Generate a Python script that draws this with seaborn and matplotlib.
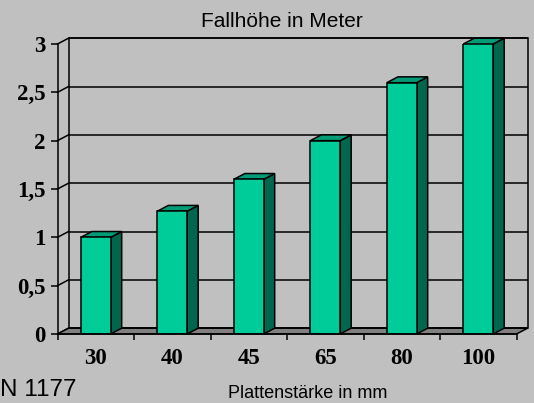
import matplotlib
matplotlib.use('Agg')
import matplotlib.pyplot as plt
from matplotlib.patches import Polygon
import seaborn as sns

# --- DATEN ---
staerke = ['30', '40', '45', '65', '80', '100']
fallhoehe = [1.0, 1.27, 1.6, 2.0, 2.6, 3.0]
y_ticks = [0, 0.5, 1, 1.5, 2, 2.5, 3]
y_labels = ['0', '0,5', '1', '1,5', '2', '2,5', '3']

# --- FARBEN ---
BG = '#C0C0C0'
FRONT = '#00CC99'
TOP = '#009B77'
SIDE = '#00664D'
FLOOR = '#808080'
LW = 1.1

# Tiefenversatz (pseudo-3D) in Dateneinheiten
DX = 0.144
DY = 0.060

fig = plt.figure(figsize=(5.34, 4.03), dpi=100, facecolor=BG)
ax = fig.add_axes([57.5 / 534, (403 - 334) / 403, 459 / 534, 290 / 403])
ax.set_facecolor('none')

x0, x1 = -0.5, len(staerke) - 0.5

# Rückwand + Gitterlinien
wall = Polygon([(x0 + DX, DY), (x1 + DX, DY), (x1 + DX, 3 + DY), (x0 + DX, 3 + DY)],
               closed=True, facecolor='none', edgecolor='black', lw=LW,
               zorder=1, clip_on=False)
ax.add_patch(wall)
for y in y_ticks:
    ax.plot([x0 + DX, x1 + DX], [y + DY, y + DY], color='black', lw=LW,
            zorder=1, clip_on=False, solid_capstyle='butt')
    ax.plot([x0, x0 + DX], [y, y + DY], color='black', lw=LW,
            zorder=1, clip_on=False)

# Boden
floor = Polygon([(x0, 0), (x1, 0), (x1 + DX, DY), (x0 + DX, DY)], closed=True,
                facecolor=FLOOR, edgecolor='black', lw=LW, zorder=1.5, clip_on=False)
ax.add_patch(floor)

# Balken
sns.barplot(x=staerke, y=fallhoehe, color=FRONT, saturation=1, width=0.39,
            edgecolor='black', linewidth=LW, ax=ax, zorder=3)

for p in ax.patches[2:]:
    bx, bw, bh = p.get_x(), p.get_width(), p.get_height()
    side = Polygon([(bx + bw, 0), (bx + bw + DX, DY), (bx + bw + DX, bh + DY), (bx + bw, bh)],
                   closed=True, facecolor=SIDE, edgecolor='black', lw=LW,
                   zorder=2.9, clip_on=False)
    top = Polygon([(bx, bh), (bx + bw, bh), (bx + bw + DX, bh + DY), (bx + DX, bh + DY)],
                  closed=True, facecolor=TOP, edgecolor='black', lw=LW,
                  zorder=2.9, clip_on=False)
    ax.add_patch(side)
    ax.add_patch(top)

ax.set_xlim(x0, x1)
ax.set_ylim(0, 3)
ax.set_xlabel('')
ax.set_ylabel('')

for s in ['top', 'right']:
    ax.spines[s].set_visible(False)
for s in ['left', 'bottom']:
    ax.spines[s].set_linewidth(LW)
    ax.spines[s].set_zorder(4)

tick_font = dict(family='Liberation Serif', weight='bold', size=16.5)
ax.set_yticks(y_ticks)
ax.set_yticklabels(y_labels, fontdict=tick_font)
ax.set_xticks(range(len(staerke)))
ax.set_xticklabels(staerke, fontdict=tick_font)
ax.set_xticks([i - 0.5 for i in range(len(staerke) + 1)], minor=True)
ax.tick_params(axis='y', length=4.7, width=LW, pad=4.0, color='black')
ax.tick_params(axis='x', which='major', length=0, pad=10)
ax.tick_params(axis='x', which='minor', length=4.5, width=LW, color='black')

# Texte
fig.text(281.5 / 534, 1 - 27 / 403, 'Fallhöhe in Meter', ha='center', va='baseline',
         fontsize=15, family='Liberation Sans')
fig.text(228 / 534, 1 - 398 / 403, 'Plattenstärke in mm', ha='left', va='baseline',
         fontsize=13, family='Liberation Sans')
fig.text(0.5 / 534, 1.5 / 403, 'N 1177', ha='left', va='bottom',
         fontsize=17.5, family='Liberation Sans')

fig.savefig('out.png', dpi=100, facecolor=BG)
